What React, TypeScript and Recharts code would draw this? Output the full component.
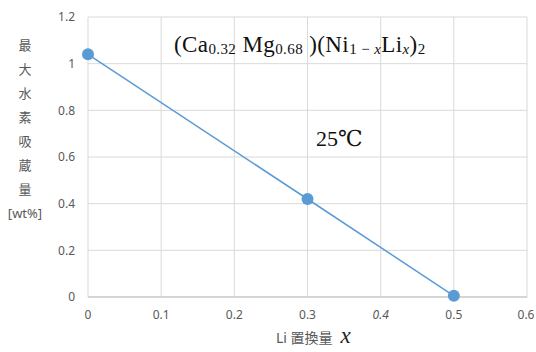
import { LineChart, Line, XAxis, YAxis, CartesianGrid } from 'recharts'

const xValues = [0, 0.3, 0.5]
const capacity = [1.04, 0.42, 0.005]
const xTicks = [0, 0.1, 0.2, 0.3, 0.4, 0.5, 0.6]
const yTicks = [0, 0.2, 0.4, 0.6, 0.8, 1, 1.2]
const yLabelChars = ['最', '大', '水', '素', '吸', '蔵', '量']

const data = xValues.map((x, i) => ({ x, y: capacity[i] }))

const tickColor = '#595959'
const sans = '"Noto Sans", "Noto Sans CJK JP", sans-serif'
const serif = '"Liberation Serif", "DejaVu Serif", serif'

const subStyle = { fontSize: 15, verticalAlign: '-0.12em' }

function XTick({ x, y, payload }: any) {
  // the 0.4 label is slanted in the original
  const italic = payload.value === 0.4
  return (
    <text x={x} y={y} dy="0.71em" textAnchor="middle" fill={tickColor} fontSize={12}
      fontFamily={sans} fontStyle={italic ? 'italic' : 'normal'}>
      {String(payload.value)}
    </text>
  )
}

export default function App() {
  return (
    <div style={{ position: 'absolute', left: 0, top: 0, width: 536, height: 352, background: '#fff', overflow: 'hidden' }}>
      <LineChart width={536} height={352} data={data} margin={{ top: 17, right: 9, bottom: 25, left: 0 }}>
        <CartesianGrid stroke="#d9d9d9" />
        <XAxis
          dataKey="x"
          type="number"
          domain={[0, 0.6]}
          ticks={xTicks}
          height={30}
          tickLine={false}
          tickMargin={7}
          axisLine={{ stroke: '#bfbfbf' }}
          tick={<XTick />}
        />
        <YAxis
          type="number"
          domain={[0, 1.2]}
          ticks={yTicks}
          width={88}
          tickLine={false}
          axisLine={false}
          tickMargin={7}
          tick={{ fill: tickColor, fontSize: 12, fontFamily: sans }}
        />
        <Line
          dataKey="y"
          stroke="#5b9bd5"
          strokeWidth={1.5}
          dot={{ r: 6, fill: '#5b9bd5', stroke: '#5b9bd5', strokeWidth: 0 }}
          isAnimationActive={false}
        />
      </LineChart>

      {/* y axis title, one character per line */}
      <div style={{ position: 'absolute', left: 4, top: 33, width: 42, textAlign: 'center', color: tickColor, fontFamily: sans, fontSize: 13, lineHeight: '24px' }}>
        {yLabelChars.map((c) => (
          <div key={c}>{c}</div>
        ))}
        <div>[wt%]</div>
      </div>

      {/* x axis title */}
      <div style={{ position: 'absolute', left: 276, top: 326, whiteSpace: 'nowrap', color: tickColor, fontFamily: sans, fontSize: 14, lineHeight: '20px' }}>
        Li 置換量
        <span style={{ fontFamily: serif, fontStyle: 'italic', fontSize: 23, color: '#222', marginLeft: 8 }}>x</span>
      </div>

      {/* composition */}
      <div style={{ position: 'absolute', left: 174, top: 31, whiteSpace: 'nowrap', fontFamily: serif, fontSize: 23, lineHeight: '28px', letterSpacing: 0.4, color: '#111' }}>
        (Ca<span style={subStyle}>0.32</span> Mg<span style={subStyle}>0.68</span> )(Ni<span style={subStyle}>1 − <i>x</i></span>Li<span style={subStyle}><i>x</i></span>)<span style={subStyle}>2</span>
      </div>

      <div style={{ position: 'absolute', left: 316, top: 126, fontFamily: serif, fontSize: 22, color: '#111' }}>25℃</div>
    </div>
  )
}
